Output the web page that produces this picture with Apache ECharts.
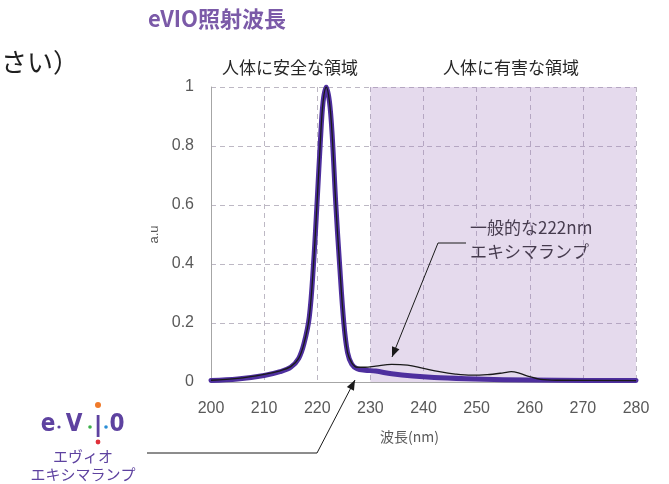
<!DOCTYPE html>
<html>
<head>
<meta charset="utf-8">
<script src="https://cdn.jsdelivr.net/npm/echarts@6/dist/echarts.min.js"></script>
<style>
html,body{margin:0;padding:0;background:#fff;}
#chart{width:669px;height:484px;}
</style>
</head>
<body>
<div id="chart"></div>
<script>
// ---- data ----
const xTickMin = 200, xTickMax = 280, xTickStep = 10;
const yTickMin = 0, yTickMax = 1, yTickStep = 0.2;
const harmfulRange = [230, 280];
const regionLabels = ['人体に安全な領域', '人体に有害な領域'];

const evioWavelength = [200, 205, 210, 213, 215, 216.5, 217.5, 218.5, 219.3, 220, 220.6, 221.1, 221.7, 222.3, 222.8, 223.5, 224.2, 225, 225.7, 226.5, 227.5, 229, 231, 234, 238, 242, 248, 255, 265, 280];
const evioValue      = [0.005, 0.01, 0.022, 0.035, 0.05, 0.08, 0.13, 0.22, 0.4, 0.62, 0.82, 0.95, 1.0, 0.95, 0.84, 0.6, 0.4, 0.2, 0.1, 0.06, 0.045, 0.04, 0.037, 0.028, 0.02, 0.015, 0.011, 0.008, 0.006, 0.005];

const lampWavelength = [200, 205, 210, 213, 215, 216.5, 217.5, 218.5, 219.3, 220, 220.6, 221.1, 221.7, 222.3, 222.8, 223.5, 224.2, 225, 225.7, 226.5, 227.5, 229, 231, 234, 237, 240, 243, 246, 249, 252, 255, 256.5, 258, 260, 262, 265, 280];
const lampValue      = [0.006, 0.012, 0.026, 0.038, 0.052, 0.08, 0.13, 0.22, 0.4, 0.62, 0.82, 0.95, 1.0, 0.95, 0.84, 0.6, 0.4, 0.2, 0.1, 0.065, 0.05, 0.05, 0.054, 0.06, 0.057, 0.046, 0.035, 0.027, 0.023, 0.025, 0.031, 0.035, 0.03, 0.018, 0.009, 0.006, 0.005];

const pairs = (xs, ys) => xs.map((x, i) => [x, ys[i]]);

const chart = echarts.init(document.getElementById('chart'), null, {renderer: 'canvas'});

const purple = '#4e2f9e';
const logoPurple = '#5e42a0';
const textDark = '#262626';
const jp = '"Noto Sans CJK JP", "Noto Sans", sans-serif';
const logoFont = '600 24px "DejaVu Sans Condensed", sans-serif';

function arrowHead(tip, from, len, half) {
  const dx = tip[0] - from[0], dy = tip[1] - from[1];
  const d = Math.hypot(dx, dy);
  const ux = dx / d, uy = dy / d;
  const bx = tip[0] - ux * len, by = tip[1] - uy * len;
  const px = -uy * half, py = ux * half;
  return [[tip[0], tip[1]], [bx + px, by + py], [bx - px, by - py]];
}

const a1From = [438, 243], a1Tip = [392, 357];
const a2From = [317, 453], a2Tip = [355, 380];

const option = {
  backgroundColor: '#fff',
  animation: false,
  grid: {left: 211, right: 33, top: 87, bottom: 102},
  xAxis: {
    type: 'value', min: xTickMin, max: xTickMax, interval: xTickStep,
    name: '波長(nm)', nameLocation: 'middle', nameGap: 48,
    nameTextStyle: {color: '#595959', fontSize: 14, fontFamily: jp, padding: [0, 28, 0, 0]},
    axisLine: {show: true, lineStyle: {color: '#a6a6a6', width: 1}},
    axisTick: {show: false},
    axisLabel: {color: '#595959', fontSize: 16, margin: 19, fontFamily: 'Liberation Sans, Arial, sans-serif'},
    splitLine: {show: true, lineStyle: {color: '#bdb8c4', type: [5, 4], width: 1}}
  },
  yAxis: {
    type: 'value', min: yTickMin, max: yTickMax, interval: yTickStep,
    name: 'a.u', nameLocation: 'middle', nameGap: 46, nameRotate: 90,
    nameTextStyle: {color: '#595959', fontSize: 13, fontFamily: 'Liberation Sans, Arial, sans-serif'},
    axisLine: {show: true, lineStyle: {color: '#a6a6a6', width: 1}},
    axisTick: {show: false},
    axisLabel: {color: '#595959', fontSize: 16, margin: 17, fontFamily: 'Liberation Sans, Arial, sans-serif'},
    splitLine: {show: true, lineStyle: {color: '#bdb8c4', type: [5, 4], width: 1}}
  },
  series: [
    {
      name: 'eVIO',
      type: 'line', smooth: 0.35, showSymbol: false, z: 3,
      data: pairs(evioWavelength, evioValue),
      lineStyle: {color: purple, width: 5, cap: 'round', join: 'round'},
      markArea: {
        silent: true,
        itemStyle: {color: 'rgba(160,120,190,0.27)'},
        data: [[{xAxis: harmfulRange[0]}, {xAxis: harmfulRange[1]}]]
      }
    },
    {
      name: '一般的な222nmエキシマランプ',
      type: 'line', smooth: 0.35, showSymbol: false, z: 4,
      data: pairs(lampWavelength, lampValue),
      lineStyle: {color: '#1a1a1a', width: 1.3}
    }
  ],
  graphic: [
    {type: 'text', left: 148, top: 8, style: {text: 'eVIO照射波長', fill: '#7b5aa8', font: 'bold 22px ' + jp}},
    {type: 'text', left: 1, top: 49, style: {text: 'さい）', fill: '#1f1f1f', font: '26px ' + jp}},
    {type: 'text', x: 290, y: 68, style: {text: regionLabels[0], fill: textDark, font: '17px ' + jp, align: 'center', verticalAlign: 'middle'}},
    {type: 'text', x: 511, y: 68, style: {text: regionLabels[1], fill: textDark, font: '17px ' + jp, align: 'center', verticalAlign: 'middle'}},
    {type: 'text', x: 470, y: 240, style: {text: '一般的な222nm\nエキシマランプ', fill: textDark, font: '17px ' + jp, lineHeight: 24, verticalAlign: 'middle'}},
    {type: 'polyline', shape: {points: [[466, 243], a1From, a1Tip]}, style: {stroke: '#1a1a1a', lineWidth: 1, fill: null}, z: 10},
    {type: 'polygon', shape: {points: arrowHead(a1Tip, a1From, 10, 4)}, style: {fill: '#1a1a1a'}, z: 10},
    {type: 'polyline', shape: {points: [[147, 453], a2From, a2Tip]}, style: {stroke: '#1a1a1a', lineWidth: 1, fill: null}, z: 10},
    {type: 'polygon', shape: {points: arrowHead(a2Tip, a2From, 10, 4)}, style: {fill: '#1a1a1a'}, z: 10},
    // logo
    {type: 'text', x: 48, y: 425, style: {text: 'e', fill: logoPurple, font: logoFont, align: 'center', verticalAlign: 'middle'}},
    {type: 'circle', shape: {cx: 59, cy: 427, r: 1.6}, style: {fill: logoPurple}},
    {type: 'text', x: 74, y: 425, style: {text: 'V', fill: logoPurple, font: logoFont, align: 'center', verticalAlign: 'middle'}},
    {type: 'circle', shape: {cx: 90, cy: 427, r: 1.8}, style: {fill: '#3bb04a'}},
    {type: 'rect', shape: {x: 96.7, y: 415, width: 2.8, height: 22}, style: {fill: logoPurple}},
    {type: 'circle', shape: {cx: 98, cy: 405, r: 3}, style: {fill: '#f07a2a'}},
    {type: 'circle', shape: {cx: 98, cy: 442, r: 2.4}, style: {fill: '#e0303a'}},
    {type: 'circle', shape: {cx: 106, cy: 427, r: 1.8}, style: {fill: '#2a8ed6'}},
    {type: 'text', x: 117, y: 425, style: {text: '0', fill: logoPurple, font: logoFont, align: 'center', verticalAlign: 'middle'}},
    {type: 'text', x: 83, y: 456, style: {text: 'エヴィオ', fill: logoPurple, font: '15px ' + jp, align: 'center', verticalAlign: 'middle'}},
    {type: 'text', x: 83, y: 474, style: {text: 'エキシマランプ', fill: logoPurple, font: '15px ' + jp, align: 'center', verticalAlign: 'middle'}}
  ]
};
chart.setOption(option);
</script>
</body>
</html>
